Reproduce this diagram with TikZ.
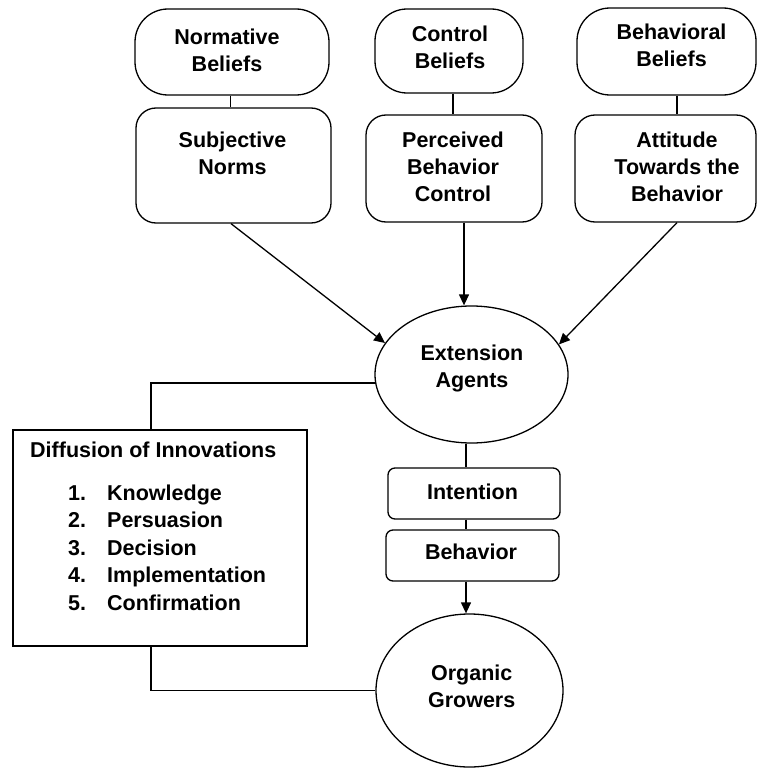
\documentclass[tikz,border=0pt]{standalone}
\usepackage{fontspec}
\setmainfont{Liberation Sans}
\usetikzlibrary{arrows.meta,shapes.geometric}
\begin{document}
\begin{tikzpicture}[x=1pt,y=-1pt,
  bx/.style={draw, line width=1.3pt, inner sep=0pt},
  txt/.style={inner sep=0pt, align=center, font=\fontsize{21.5}{27}\selectfont\bfseries},
  conn/.style={line width=1.3pt},
  arr/.style={line width=1.3pt, -{Triangle[length=11pt,width=10pt]}}
]
\useasboundingbox (0,0) rectangle (757,768);
% top belief boxes
\node[bx, rounded corners=33pt, minimum width=194pt, minimum height=86pt] (norm) at (232,52) {};
\node[txt] (normT) at (227,50.7) {Normative\\Beliefs};
\node[bx, rounded corners=32pt, minimum width=148pt, minimum height=84pt] (ctrl) at (449,51) {};
\node[txt] (ctrlT) at (450,47.2) {Control\\Beliefs};
\node[bx, rounded corners=33pt, minimum width=179pt, minimum height=87pt] (behb) at (666.5,51.5) {};
\node[txt] (behbT) at (671.5,45.7) {Behavioral\\Beliefs};
% second row
\node[bx, rounded corners=20pt, minimum width=195pt, minimum height=115pt] (subj) at (233.5,165.5) {};
\node[txt] (subjT) at (232.5,153.7) {Subjective\\Norms};
\node[bx, rounded corners=20pt, minimum width=176pt, minimum height=107pt] (perc) at (454,168.5) {};
\node[txt] (percT) at (453,166.7) {Perceived\\Behavior\\Control};
\node[bx, rounded corners=20pt, minimum width=181pt, minimum height=107pt] (att) at (665.5,168.5) {};
\node[txt] (attT) at (677,167) {Attitude\\Towards the\\Behavior};
% centre column
\node[bx, ellipse, minimum width=193pt, minimum height=137pt] (ext) at (471.5,374.5) {};
\node[txt] (extT) at (472,368.7) {Extension\\Agents};
\node[bx, rounded corners=7pt, minimum width=172pt, minimum height=51pt] (int) at (474,493.5) {};
\node[txt] (intT) at (472.5,492.2) {Intention};
\node[bx, rounded corners=7pt, minimum width=173pt, minimum height=51pt] (beh) at (472.5,555.5) {};
\node[txt] (behT) at (471,552.2) {Behavior};
\node[bx, ellipse, minimum width=187pt, minimum height=153pt] (org) at (469.5,690.5) {};
\node[txt] (orgT) at (471.7,686.7) {Organic\\Growers};
% diffusion box
\node[bx, minimum width=294pt, minimum height=216pt] (dif) at (160,538) {};
\node[txt, anchor=base west] (difT) at (30,457) {Diffusion of Innovations};
\node[txt, align=left, anchor=north west, font=\fontsize{21.5}{27.5}\selectfont\bfseries] (difL) at (68,484.4)
  {\makebox[39pt][l]{1.}Knowledge\\\makebox[39pt][l]{2.}Persuasion\\\makebox[39pt][l]{3.}Decision\\\makebox[39pt][l]{4.}Implementation\\\makebox[39pt][l]{5.}Confirmation};
% connectors
\draw[conn] ([xshift=-1.5pt]norm.south) -- ([xshift=-1.5pt]norm.south |- subj.north);
\draw[conn] ([xshift=4pt]ctrl.south) -- ([xshift=4pt]ctrl.south |- perc.north);
\draw[conn] ([xshift=10.5pt]behb.south) -- ([xshift=10.5pt]behb.south |- att.north);
\draw[arr] ([xshift=-2.5pt]subj.south) -- (ext.160);
\draw[arr] ([xshift=10pt]perc.south) -- ([xshift=10pt]perc.south |- ext.north);
\draw[arr] ([xshift=11.5pt]att.south) -- (ext.19);
\draw[conn] ([xshift=-5.5pt]ext.south) -- ([xshift=-5.5pt]ext.south |- int.north);
\draw[conn] ([xshift=-8pt]int.south) -- ([xshift=-8pt]int.south |- beh.north);
\draw[arr] ([xshift=-6.5pt]beh.south) -- ([xshift=-6.5pt]beh.south |- org.north);
\draw[conn] (ext.185) -| ([xshift=-9pt]dif.north);
\draw[conn] ([xshift=-9pt]dif.south) |- (org.west);
\end{tikzpicture}
\end{document}
